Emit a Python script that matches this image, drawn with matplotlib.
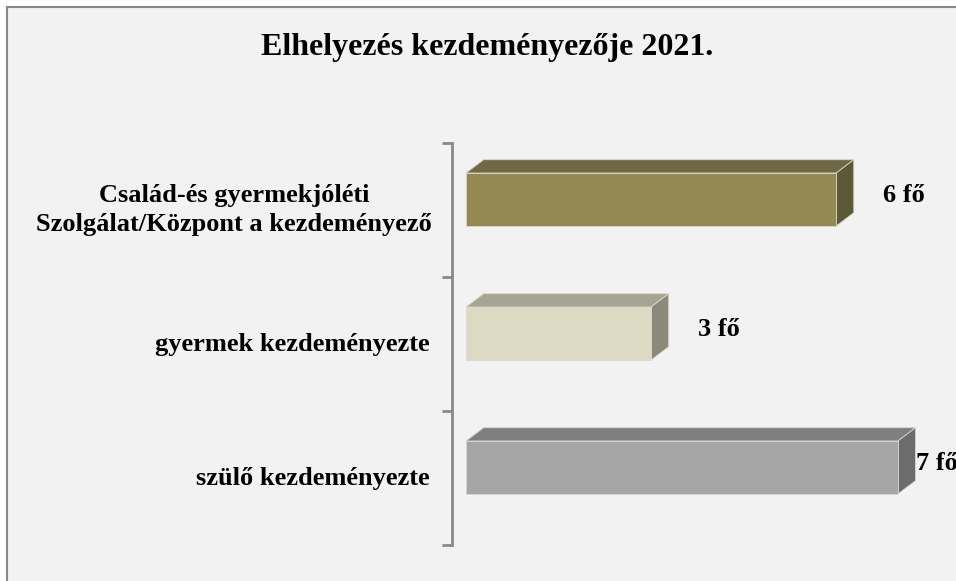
import matplotlib.pyplot as plt
from matplotlib.patches import Rectangle, Polygon

# data
categories = ['Család-és gyermekjóléti\nSzolgálat/Központ a kezdeményező',
              'gyermek kezdeményezte',
              'szülő kezdeményezte']
values = [6, 3, 7]
value_labels = ['6 fő', '3 fő', '7 fő']

# front / top / side colours for each bar
front_colors = ['#938953', '#ddd9c3', '#a6a6a6']
top_colors = ['#6f6943', '#a6a592', '#7f7f7f']
side_colors = ['#5d5835', '#8b8a78', '#6c6c6c']

plt.rcParams['font.family'] = ['Liberation Serif', 'DejaVu Serif']
plt.rcParams['font.weight'] = 'bold'

W, H = 956, 581
fig = plt.figure(figsize=(W / 100, H / 100), dpi=100, facecolor='white')

# chart area frame
fig.patches.append(Rectangle((7 / W, -0.05), 1.1, (H - 7) / H + 0.05,
                             transform=fig.transFigure, facecolor='#f2f2f2',
                             edgecolor='#898989', linewidth=1.5, zorder=-5))

fig.text(487 / W, 1 - 47 / H, 'Elhelyezés kezdeményezője 2021.',
         ha='center', va='center', fontsize=23, fontweight='bold')

# axes placed in pixel terms: left spine at x=452, categories 143..545
ax_left, ax_right = 452, 956
ax_top, ax_bot = 143, 545
ax = fig.add_axes([ax_left / W, 1 - ax_bot / H, (ax_right - ax_left) / W,
                   (ax_bot - ax_top) / H])
ax.set_facecolor('none')
ax.set_zorder(2)

px_per_unit = 61.7
x0 = -(466 - ax_left) / px_per_unit
ax.set_xlim(x0, x0 + (ax_right - ax_left) / px_per_unit)
ax.set_ylim(2.5, -0.5)

px_y = 3 / (ax_bot - ax_top)
depth_x = 17.6 / px_per_unit
depth_y = 13.3 * px_y
bar_h = 53 * px_y
shift = 10.5 * px_y

for i, v in enumerate(values):
    top = i - shift - bar_h / 2
    bot = i - shift + bar_h / 2
    ax.add_patch(Polygon([(0, top), (depth_x, top - depth_y), (v + depth_x, top - depth_y), (v, top)],
                         closed=True, facecolor=top_colors[i], edgecolor='#d8d8d0', linewidth=0.6))
    ax.add_patch(Polygon([(v, top), (v + depth_x, top - depth_y), (v + depth_x, bot - depth_y), (v, bot)],
                         closed=True, facecolor=side_colors[i], edgecolor='#d8d8d0', linewidth=0.6))
    ax.add_patch(Rectangle((0, top), v, bar_h, facecolor=front_colors[i],
                           edgecolor='#d8d8d0', linewidth=0.6))
    lx = v + depth_x + 29 / px_per_unit
    if lx + 40 / px_per_unit > ax.get_xlim()[1]:
        lx = v + depth_x
    ax.text(lx, i - shift - depth_y / 2 + 3 * px_y, value_labels[i], ha='left', va='center',
            fontsize=19, fontweight='bold', clip_on=False)

ax.set_yticks([-0.5, 0.5, 1.5, 2.5])
ax.set_yticklabels([])
ax.tick_params(axis='y', length=7, width=2, color='#898989')
ax.set_xticks([])
label_x = 234
for i, c in enumerate(categories):
    ax.text(x0 - (ax_left - label_x) / px_per_unit if '\n' in c else x0 - 22 / px_per_unit,
            i, c, ha='center' if '\n' in c else 'right',
            va='center', fontsize=19, fontweight='bold', linespacing=1.3)
for s in ['top', 'right', 'bottom']:
    ax.spines[s].set_visible(False)
ax.spines['left'].set_color('#898989')
ax.spines['left'].set_linewidth(2)

fig.savefig('out.png', dpi=100, facecolor=fig.get_facecolor())
